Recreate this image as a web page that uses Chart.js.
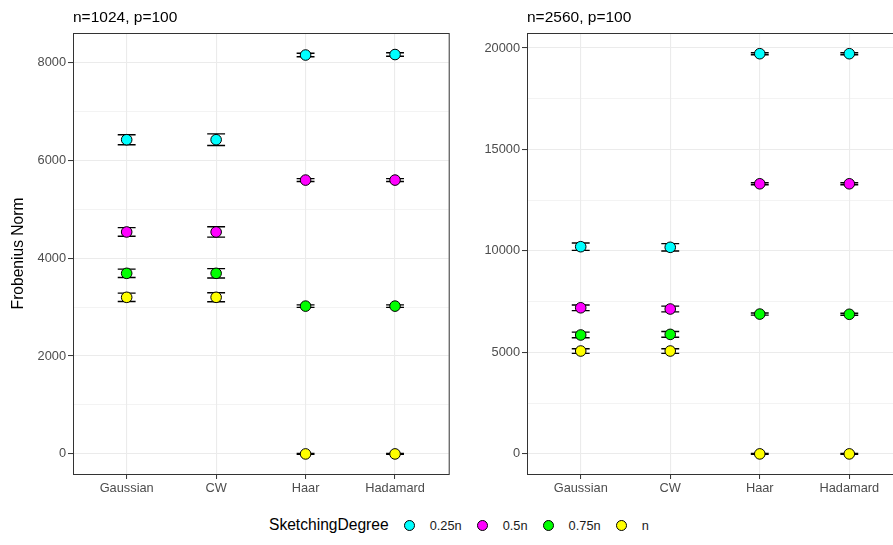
<!DOCTYPE html>
<html>
<head>
<meta charset="utf-8">
<script src="https://cdn.jsdelivr.net/npm/chart.js@4.4.1/dist/chart.umd.min.js"></script>
<style>
  html, body { margin: 0; padding: 0; background: #fff; overflow: hidden; }
  #page { position: relative; width: 893px; height: 545px; overflow: hidden; font-family: "Liberation Sans", Arial, sans-serif; }
  canvas { position: absolute; top: 0; left: 0; }
  .clip { position: absolute; top: 0; height: 500px; overflow: hidden; background: #fff; }
  #legend { position: absolute; left: 269px; top: 516px; display: flex; align-items: center; white-space: nowrap; }
  #legend .ttl { font-size: 15.6px; color: #000; }
  #legend .dot { display: inline-block; width: 9px; height: 9px; border: 1px solid #000; border-radius: 50%; margin-left: 15px; }
  #legend .lab { font-size: 12.8px; color: #1a1a1a; margin-left: 15px; }
</style>
</head>
<body>
<div id="page">
  <div class="clip" style="left:0px;width:455px"><canvas id="left" width="455" height="500"></canvas></div>
  <div class="clip" style="left:460px;width:433px"><canvas id="right" width="470" height="500"></canvas></div>
  <div id="legend"></div>
</div>
<script>
// categories and legend
const methods = ['Gaussian', 'CW', 'Haar', 'Hadamard'];
const degrees = ['0.25n', '0.5n', '0.75n', 'n'];
const degreeColors = ['#00FFFF', '#FF00FF', '#00FF00', '#FFFF00'];

// n=1024, p=100 : mean Frobenius norm per method
const q25_1024 = [6420, 6420, 8150, 8160];
const q50_1024 = [4535, 4535, 5595, 5595];
const q75_1024 = [3690, 3690, 3020, 3020];
const full_1024 = [3200, 3200, 0, 0];
// error bar half widths
const q25_1024_err = [102, 119, 35, 35];
const q50_1024_err = [88, 105, 30, 30];
const q75_1024_err = [85, 95, 25, 25];
const full_1024_err = [85, 92, 10, 10];

// n=2560, p=100
const q25_2560 = [10210, 10180, 19720, 19720];
const q50_2560 = [7200, 7140, 13310, 13310];
const q75_2560 = [5860, 5890, 6890, 6880];
const full_2560 = [5070, 5070, 0, 0];
const q25_2560_err = [180, 180, 50, 50];
const q50_2560_err = [140, 140, 50, 50];
const q75_2560_err = [140, 140, 50, 50];
const full_2560_err = [115, 115, 20, 20];

// y grid positions (minor + major) and labelled ticks
const yGrid_1024 = [0, 1000, 2000, 3000, 4000, 5000, 6000, 7000, 8000];
const yLabels_1024 = [0, 2000, 4000, 6000, 8000];
const yRange_1024 = [-410, 8600];
const yGrid_2560 = [0, 2500, 5000, 7500, 10000, 12500, 15000, 17500, 20000];
const yLabels_2560 = [0, 5000, 10000, 15000, 20000];
const yRange_2560 = [-990, 20740];
const xTicks = [1, 2, 3, 4];

const errorBars = {
  id: 'errorBars',
  beforeDatasetsDraw(chart) {
    const { ctx, scales: { x, y } } = chart;
    ctx.save();
    ctx.strokeStyle = '#000';
    ctx.lineWidth = 1.4;
    chart.data.datasets.forEach(ds => {
      ds.data.forEach((p, i) => {
        const hi = y.getPixelForValue(p.y + ds.err[i]);
        const lo = y.getPixelForValue(p.y - ds.err[i]);
        const xl = x.getPixelForValue(p.x - 0.1);
        const xr = x.getPixelForValue(p.x + 0.1);
        const xc = x.getPixelForValue(p.x);
        ctx.beginPath();
        ctx.moveTo(xl, hi); ctx.lineTo(xr, hi);
        ctx.moveTo(xc, hi); ctx.lineTo(xc, lo);
        ctx.moveTo(xl, lo); ctx.lineTo(xr, lo);
        ctx.stroke();
      });
    });
    ctx.restore();
  }
};

// panel border and the little title above it
const panelFrame = {
  id: 'panelFrame',
  afterDraw(chart, args, opts) {
    const { ctx, chartArea: a } = chart;
    ctx.save();
    ctx.strokeStyle = '#333';
    ctx.lineWidth = 1;
    ctx.strokeRect(a.left + 0.5, a.top + 0.5, a.right - a.left, a.bottom - a.top);
    ctx.fillStyle = '#000';
    ctx.font = '15.5px "Liberation Sans", Arial, sans-serif';
    ctx.textBaseline = 'alphabetic';
    ctx.fillText(opts.text, a.left, 22);
    ctx.restore();
  }
};

function makePanel(id, title, series, errs, yGrid, yLabels, yRange, axisWidth, rightPad, showYTitle) {
  const datasets = series.map((vals, k) => ({
    label: degrees[k],
    data: vals.map((v, i) => ({ x: i + 1, y: v })),
    err: errs[k],
    backgroundColor: degreeColors[k],
    borderColor: '#000',
    borderWidth: 1,
    pointRadius: 5.3
  }));
  const isMajor = c => c.tick && yLabels.includes(c.tick.value);

  new Chart(document.getElementById(id), {
    type: 'scatter',
    data: { datasets },
    options: {
      responsive: false,
      animation: false,
      events: [],
      layout: { padding: { top: 33, right: rightPad, bottom: 0, left: 0 } },
      plugins: {
        legend: { display: false },
        tooltip: { enabled: false },
        panelFrame: { text: title }
      },
      scales: {
        x: {
          type: 'linear',
          min: 0.4,
          max: 4.6,
          afterBuildTicks: s => { s.ticks = xTicks.map(v => ({ value: v })); },
          afterFit: s => { s.height = 26; },
          border: { display: false },
          grid: { color: '#ebebeb', lineWidth: 1.1, tickColor: '#333', tickLength: 5, tickWidth: 1 },
          ticks: {
            autoSkip: false,
            maxRotation: 0,
            padding: 2,
            color: '#4d4d4d',
            font: { family: '"Liberation Sans", Arial, sans-serif', size: 12.8 },
            callback: v => methods[v - 1]
          }
        },
        y: {
          min: yRange[0],
          max: yRange[1],
          afterBuildTicks: s => { s.ticks = yGrid.map(v => ({ value: v })); },
          afterFit: s => { s.width = axisWidth; },
          border: { display: false },
          title: {
            display: showYTitle,
            text: 'Frobenius Norm',
            color: '#000',
            padding: { top: 9, bottom: 0 },
            font: { family: '"Liberation Sans", Arial, sans-serif', size: 15.6 }
          },
          grid: {
            color: '#ebebeb',
            lineWidth: c => (isMajor(c) ? 1.1 : 0.6),
            tickColor: c => (isMajor(c) ? '#333' : 'rgba(0,0,0,0)'),
            tickLength: 5,
            tickWidth: 1
          },
          ticks: {
            autoSkip: false,
            padding: 2,
            color: '#4d4d4d',
            font: { family: '"Liberation Sans", Arial, sans-serif', size: 12.8 },
            callback: v => (yLabels.includes(v) ? String(v) : '')
          }
        }
      }
    },
    plugins: [errorBars, panelFrame]
  });
}

makePanel('left', 'n=1024, p=100',
  [q25_1024, q50_1024, q75_1024, full_1024],
  [q25_1024_err, q50_1024_err, q75_1024_err, full_1024_err],
  yGrid_1024, yLabels_1024, yRange_1024, 73, 6, true);

// right panel runs past the window edge, as in the reference
makePanel('right', 'n=2560, p=100',
  [q25_2560, q50_2560, q75_2560, full_2560],
  [q25_2560_err, q50_2560_err, q75_2560_err, full_2560_err],
  yGrid_2560, yLabels_2560, yRange_2560, 67, 27, false);

// shared legend under both panels
const legend = document.getElementById('legend');
legend.innerHTML = '<span class="ttl">SketchingDegree</span>' +
  degrees.map((d, k) => `<span class="dot" style="background:${degreeColors[k]}"></span><span class="lab">${d}</span>`).join('');
</script>
</body>
</html>
